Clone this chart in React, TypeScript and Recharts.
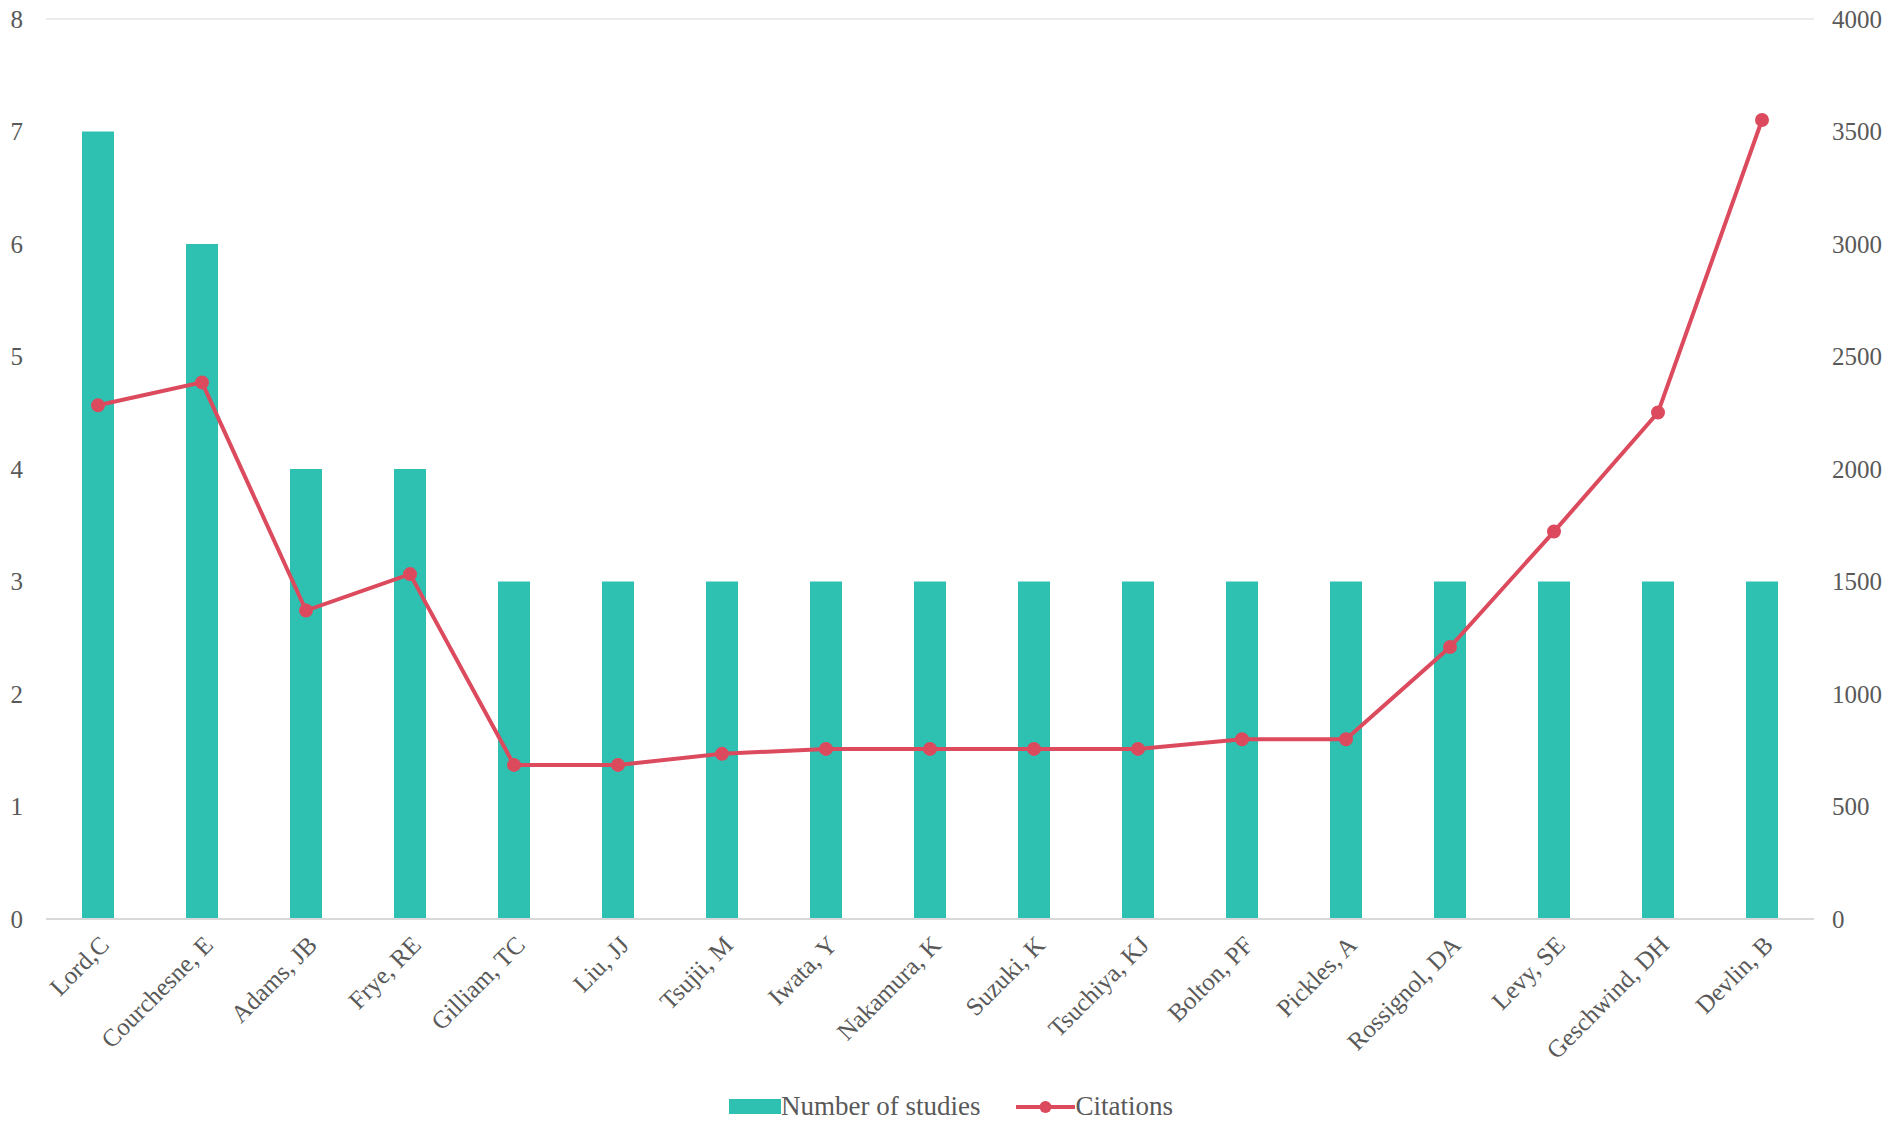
import { Bar, ComposedChart, Line, XAxis, YAxis, CartesianGrid, Legend } from "recharts"

const authors = [
  "Lord,C", "Courchesne, E", "Adams, JB", "Frye, RE", "Gilliam, TC", "Liu, JJ", "Tsujii, M",
  "Iwata, Y", "Nakamura, K", "Suzuki, K", "Tsuchiya, KJ", "Bolton, PF", "Pickles, A",
  "Rossignol, DA", "Levy, SE", "Geschwind, DH", "Devlin, B",
]
const studies = [7, 6, 4, 4, 3, 3, 3, 3, 3, 3, 3, 3, 3, 3, 3, 3, 3]
const citations = [2283, 2385, 1371, 1533, 685, 685, 734, 756, 756, 756, 756, 799, 799, 1209, 1722, 2251, 3551]
const leftTicks = [0, 1, 2, 3, 4, 5, 6, 7, 8]
const rightTicks = [0, 500, 1000, 1500, 2000, 2500, 3000, 3500, 4000]

const TEAL = "#2ec1b2"
const RED = "#dc4a5e"
const TEXT = "#595959"
const FONT = "'Liberation Serif', 'Times New Roman', serif"

const data = authors.map((name, i) => ({ name, studies: studies[i], citations: citations[i] }))

function LegendContent() {
  return (
    <div
      style={{
        display: "flex",
        justifyContent: "center",
        alignItems: "center",
        paddingTop: 16,
        fontFamily: FONT,
        fontSize: 27,
        color: TEXT,
      }}
    >
      <span style={{ width: 52, height: 15, background: TEAL, display: "inline-block" }} />
      <span style={{ marginRight: 36 }}>Number of studies</span>
      <svg width={59} height={16}>
        <line x1={0} y1={8} x2={59} y2={8} stroke={RED} strokeWidth={4} />
        <circle cx={29.5} cy={8} r={6} fill={RED} />
      </svg>
      <span>Citations</span>
    </div>
  )
}

export default function App() {
  return (
    <div style={{ position: "absolute", left: 0, top: 0, width: 1902, height: 1125, background: "#fff" }}>
      <ComposedChart
        width={1902}
        height={1125}
        data={data}
        margin={{ top: 19, right: 0, left: 0, bottom: 0 }}
        barCategoryGap={0}
      >
        <CartesianGrid vertical={false} stroke="#e6e6e6" strokeWidth={1.5} />
        <XAxis
          dataKey="name"
          interval={0}
          height={156}
          angle={-45}
          textAnchor="end"
          tickLine={false}
          tickMargin={9}
          axisLine={{ stroke: "#d9d9d9", strokeWidth: 2 }}
          tick={{ fill: TEXT, fontSize: 25, fontFamily: FONT }}
        />
        <YAxis
          yAxisId="left"
          domain={[0, 8]}
          ticks={leftTicks}
          width={46}
          axisLine={false}
          tickLine={false}
          tickMargin={17}
          tick={{ fill: TEXT, fontSize: 25, fontFamily: FONT }}
        />
        <YAxis
          yAxisId="right"
          orientation="right"
          domain={[0, 4000]}
          ticks={rightTicks}
          width={88}
          axisLine={false}
          tickLine={false}
          tickMargin={12}
          tick={{ fill: TEXT, fontSize: 25, fontFamily: FONT }}
        />
        <Legend
          verticalAlign="bottom"
          height={50}
          wrapperStyle={{ height: 50 }}
          content={() => <LegendContent />}
        />
        <Bar
          yAxisId="left"
          dataKey="studies"
          name="Number of studies"
          fill={TEAL}
          barSize={32}
          isAnimationActive={false}
        />
        <Line
          yAxisId="right"
          type="linear"
          dataKey="citations"
          name="Citations"
          stroke={RED}
          strokeWidth={4}
          dot={{ fill: RED, stroke: RED, r: 5 }}
          activeDot={false}
          isAnimationActive={false}
        />
      </ComposedChart>
    </div>
  )
}
